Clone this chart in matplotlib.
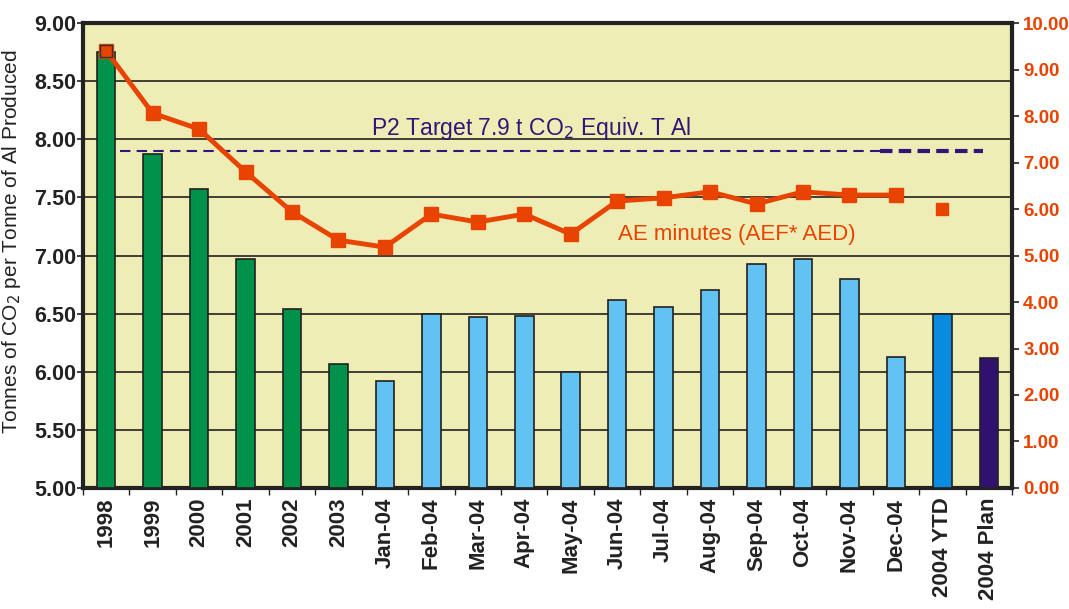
import numpy as np
import matplotlib.pyplot as plt

# categories and values
labels = ['1998', '1999', '2000', '2001', '2002', '2003',
          'Jan-04', 'Feb-04', 'Mar-04', 'Apr-04', 'May-04', 'Jun-04',
          'Jul-04', 'Aug-04', 'Sep-04', 'Oct-04', 'Nov-04', 'Dec-04',
          '2004 YTD', '2004 Plan']
co2 = [8.75, 7.87, 7.57, 6.97, 6.54, 6.07,
       5.92, 6.50, 6.47, 6.48, 6.00, 6.62,
       6.56, 6.70, 6.93, 6.97, 6.80, 6.13,
       6.50, 6.12]
ae_minutes = [9.40, 8.06, 7.72, 6.80, 5.94, 5.33,
              5.18, 5.89, 5.72, 5.89, 5.46, 6.17,
              6.24, 6.37, 6.11, 6.37, 6.30, 6.30]
ae_ytd = 6.00
target = 7.9

bar_colors = ['#00924a'] * 6 + ['#62c3f3'] * 12 + ['#0a8be0', '#311170']
orange = '#e84300'
purple = '#341478'
dark = '#222222'

plt.rcParams['font.family'] = ['Liberation Sans', 'DejaVu Sans']

fig = plt.figure(figsize=(10.69, 6.09), dpi=100)
ax = fig.add_axes([0.0776, 0.1987, 0.8691, 0.7635])
ax.set_facecolor('#efedb6')

x = np.arange(len(labels))
ax.bar(x, np.array(co2) - 5, bottom=5, width=0.4, color=bar_colors,
       edgecolor=dark, linewidth=1.2, zorder=3)

ax.set_xlim(-0.5, len(labels) - 0.5)
ax.set_ylim(5, 9)
ax.set_yticks(np.arange(5, 9.01, 0.5))
ax.set_yticklabels(['%.2f' % v for v in np.arange(5, 9.01, 0.5)],
                   fontsize=15.5, fontweight='bold', color=dark)
ax.yaxis.grid(True, color=dark, linewidth=1.2, zorder=1)
ax.set_axisbelow(True)

ax.set_xticks(x)
ax.set_xticklabels(labels, rotation=90, fontsize=16, fontweight='bold', color=dark)
ax.tick_params(axis='x', length=0, pad=7)
ax.set_xticks(np.arange(-0.5, len(labels), 1), minor=True)
ax.tick_params(axis='x', which='minor', length=5, width=1, color=dark)
ax.tick_params(axis='y', length=4, width=1.2, color=dark, pad=1)

for s in ax.spines.values():
    s.set_linewidth(3)
    s.set_color(dark)

ax.set_ylabel('Tonnes of CO$_2$ per Tonne of Al Produced', fontsize=15,
              color=dark)
ax.yaxis.set_label_coords(-0.064, 0.53)

# target line
ax.plot([0.3, 16.66], [target, target], color=purple, linestyle=(0, (5, 3)),
        linewidth=1.5, zorder=4)
ax.plot([16.66, 18.88], [target, target], color=purple, linestyle=(0, (3, 1.5)),
        linewidth=3, zorder=4)
ax.text(9.15, 8.09, 'P2 Target 7.9 t CO$_2$ Equiv. T Al', color=purple,
        fontsize=16.5, ha='center', va='center')

# AE minutes on right axis
ax2 = ax.twinx()
ax2.set_ylim(0, 10)
ax2.set_yticks(np.arange(0, 10.01, 1))
ax2.set_yticklabels(['%.2f' % v for v in np.arange(0, 10.01, 1)],
                    fontsize=13.5, fontweight='bold', color=orange)
ax2.tick_params(axis='y', length=5, width=1.2, color=dark, pad=3)
for s in ax2.spines.values():
    s.set_visible(False)
ax2.plot(x[:len(ae_minutes)], ae_minutes, color=orange, linewidth=3.5,
         marker='s', markersize=10, markeredgecolor=orange, zorder=5)
ax2.plot([0], [ae_minutes[0]], marker='s', markersize=9, color=orange,
         markeredgecolor='#333333', linestyle='none', zorder=6)
ax2.plot([18], [ae_ytd], marker='s', markersize=9, color=orange,
         linestyle='none', zorder=5)
ax2.text(11.02, 5.45, 'AE minutes (AEF* AED)', color=orange, fontsize=16,
         ha='left', va='center')

plt.savefig('out.png', dpi=100)
